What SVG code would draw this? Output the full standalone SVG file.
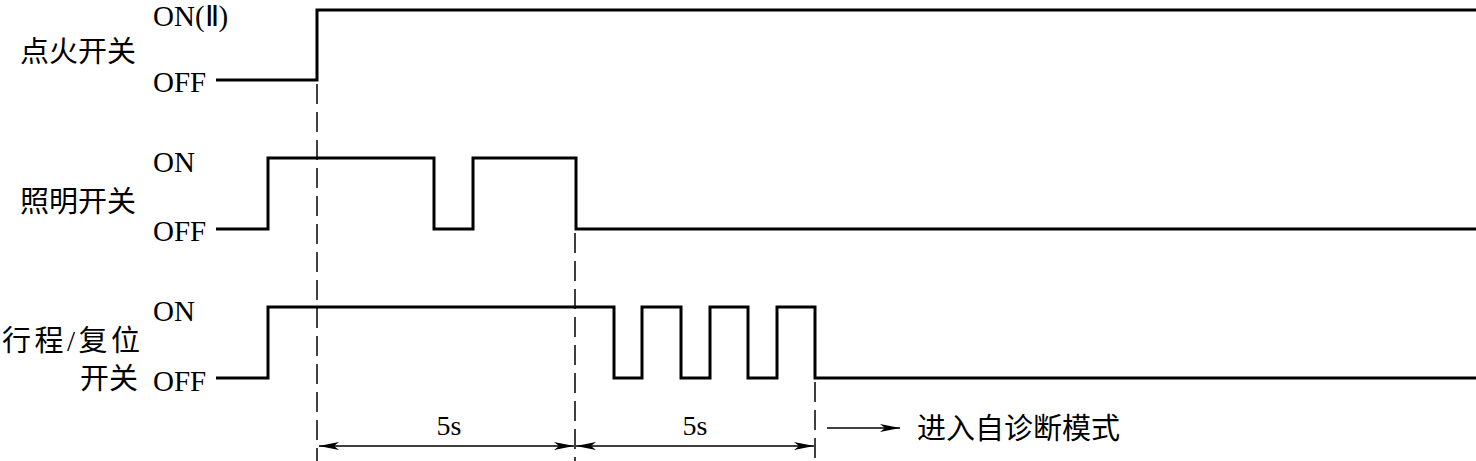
<svg xmlns="http://www.w3.org/2000/svg" width="1476" height="461" viewBox="0 0 1476 461">
<style>
.w{fill:none;stroke:#000;stroke-width:3;stroke-linejoin:miter}
.d{fill:none;stroke:#000;stroke-width:1.5;stroke-dasharray:20 8}
.dim{fill:none;stroke:#000;stroke-width:1.5}
.t{font-family:"Liberation Serif",serif;font-size:29px;fill:#000}
.n{font-family:"Liberation Serif",serif;font-size:28px;fill:#000;text-anchor:middle}
.c{font-family:"Liberation Serif","Noto Sans CJK SC",serif;font-size:29px;fill:#000}
</style>
<defs>
<marker id="ah" viewBox="0 0 20 8" refX="20" refY="4" markerWidth="20" markerHeight="8" markerUnits="userSpaceOnUse" orient="auto-start-reverse">
<path d="M0,0 L20,4 L0,8 L5,4 Z" fill="#000"/>
</marker>
</defs>
<rect width="1476" height="461" fill="#fff"/>
<g id="ignition">
<text class="c" x="20" y="62">点火开关</text>
<text class="t" x="153" y="26">ON(Ⅱ)</text>
<text class="t" x="153" y="92">OFF</text>
<polyline class="w" points="216,80 317,80 317,10 1476,10"/>
</g>
<g id="lighting">
<text class="c" x="20" y="212">照明开关</text>
<text class="t" x="153" y="172">ON</text>
<text class="t" x="153" y="241">OFF</text>
<polyline class="w" points="216,229 268,229 268,158 434,158 434,229 473,229 473,158 576,158 576,229 1476,229"/>
</g>
<g id="travel">
<text class="c" x="2" y="351" textLength="138" lengthAdjust="spacing">行程/复位</text>
<text class="c" x="80" y="389">开关</text>
<text class="t" x="153" y="321">ON</text>
<text class="t" x="153" y="391">OFF</text>
<polyline class="w" points="216,378 268,378 268,307 614,307 614,378 642,378 642,307 681,307 681,378 710,378 710,307 748,307 748,378 777,378 777,307 815,307 815,378 1476,378"/>
</g>
<g id="connectors">
<line class="d" x1="317" y1="84" x2="317" y2="461"/>
<line class="d" x1="575" y1="233" x2="575" y2="461"/>
<line class="d" x1="815" y1="382" x2="815" y2="461"/>
<line class="dim" x1="319" y1="446" x2="574" y2="446" marker-start="url(#ah)" marker-end="url(#ah)"/>
<line class="dim" x1="576" y1="446" x2="814" y2="446" marker-start="url(#ah)" marker-end="url(#ah)"/>
<line class="dim" x1="827" y1="428" x2="900" y2="428" marker-end="url(#ah)"/>
</g>
<g id="labels">
<text class="n" x="449" y="435">5s</text>
<text class="n" x="695" y="435">5s</text>
<text class="c" x="917" y="439" font-size="30">进入自诊断模式</text>
</g>
</svg>
